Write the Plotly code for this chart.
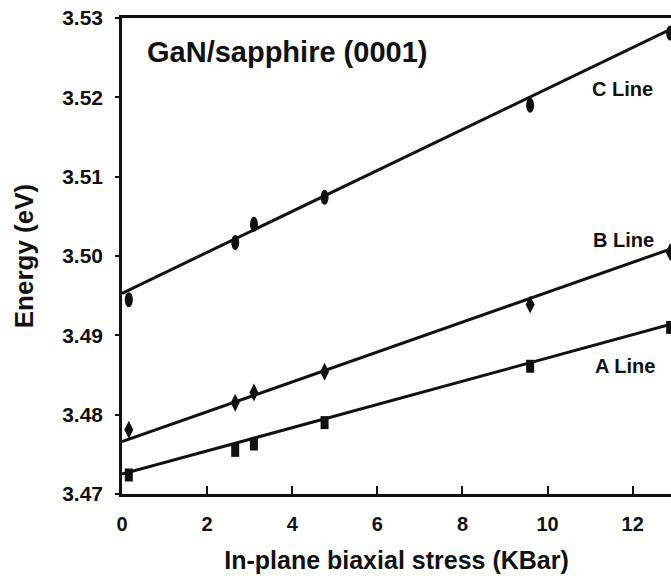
import plotly.graph_objects as go

# ---- data ----
stress_kbar = [0.16, 2.66, 3.10, 4.76, 9.59, 12.88]
c_line_ev = [3.4945, 3.5017, 3.5040, 3.5074, 3.5190, 3.5281]
b_line_ev = [3.4781, 3.4815, 3.4828, 3.4854, 3.4939, 3.5005]
a_line_ev = [3.4724, 3.4755, 3.4763, 3.4790, 3.4861, 3.4910]

fit_stress = [0.0, 12.9]
c_fit_ev = [3.4953, 3.5286]
b_fit_ev = [3.4766, 3.5009]
a_fit_ev = [3.4725, 3.4914]

x_ticks = [0, 2, 4, 6, 8, 10, 12]
y_ticks = [3.47, 3.48, 3.49, 3.50, 3.51, 3.52, 3.53]
y_tick_text = ["3.47", "3.48", "3.49", "3.50", "3.51", "3.52", "3.53"]

INK = "#111111"
FONT = "Liberation Sans"

fig = go.Figure()

for fy in (c_fit_ev, b_fit_ev, a_fit_ev):
    fig.add_trace(go.Scatter(x=fit_stress, y=fy, mode="lines",
                             line=dict(color=INK, width=3),
                             hoverinfo="skip", showlegend=False))

shapes = []
# C line: vertical ellipses
for xv, yv in zip(stress_kbar, c_line_ev):
    shapes.append(dict(type="circle", xref="x", yref="y",
                       xsizemode="pixel", ysizemode="pixel",
                       xanchor=xv, yanchor=yv, x0=-4, x1=4, y0=-7.5, y1=7.5,
                       fillcolor=INK, line=dict(width=0)))
# B line: tall diamonds
for xv, yv in zip(stress_kbar, b_line_ev):
    shapes.append(dict(type="path", xref="x", yref="y",
                       xsizemode="pixel", ysizemode="pixel",
                       xanchor=xv, yanchor=yv,
                       path="M0,-9 L4.5,0 L0,9 L-4.5,0 Z",
                       fillcolor=INK, line=dict(width=0)))
# A line: tall rectangles
for xv, yv in zip(stress_kbar, a_line_ev):
    shapes.append(dict(type="rect", xref="x", yref="y",
                       xsizemode="pixel", ysizemode="pixel",
                       xanchor=xv, yanchor=yv, x0=-4, x1=4, y0=-6.5, y1=6.5,
                       fillcolor=INK, line=dict(width=0)))

label_font = dict(family=FONT, size=20, color=INK, weight="bold")
annotations = [
    dict(x=3.87, y=3.5257, xref="x", yref="y", text="<b>GaN/sapphire (0001)</b>",
         showarrow=False, font=dict(family=FONT, size=29, color=INK)),
    dict(x=11.76, y=3.5211, xref="x", yref="y", text="C Line",
         showarrow=False, font=label_font),
    dict(x=11.78, y=3.5020, xref="x", yref="y", text="B Line",
         showarrow=False, font=label_font),
    dict(x=11.82, y=3.4861, xref="x", yref="y", text="A Line",
         showarrow=False, font=label_font),
]

fig.update_layout(
    width=671, height=576,
    margin=dict(l=122, r=0, t=18, b=82),
    paper_bgcolor="white", plot_bgcolor="white",
    showlegend=False,
    shapes=shapes,
    annotations=annotations,
    xaxis=dict(range=[0, 12.9], tickvals=x_ticks,
               ticks="inside", ticklen=8, tickwidth=2, tickcolor=INK,
               showline=True, linecolor=INK, linewidth=2.5, mirror=True,
               showgrid=False, zeroline=False,
               ticklabelstandoff=10,
               tickfont=dict(family=FONT, size=20, color=INK, weight="bold"),
               title=dict(text="<b>In-plane biaxial stress (KBar)</b>", standoff=18,
                          font=dict(family=FONT, size=25, color=INK))),
    yaxis=dict(range=[3.47, 3.53], tickvals=y_ticks, ticktext=y_tick_text,
               ticks="outside", ticklen=4, tickwidth=2, tickcolor=INK,
               showline=True, linecolor=INK, linewidth=2.5,
               showgrid=False, zeroline=False,
               ticklabelstandoff=8,
               tickfont=dict(family=FONT, size=21, color=INK, weight="bold"),
               title=dict(text="<b>Energy (eV)</b>", standoff=22,
                          font=dict(family=FONT, size=26, color=INK))),
)

# remove the default page margin so the 671x576 figure fills the window
fig.write_html("out.html",
               config={"displayModeBar": False},
               post_script="document.body.style.margin='0';"
                           "document.body.style.overflow='hidden';")
